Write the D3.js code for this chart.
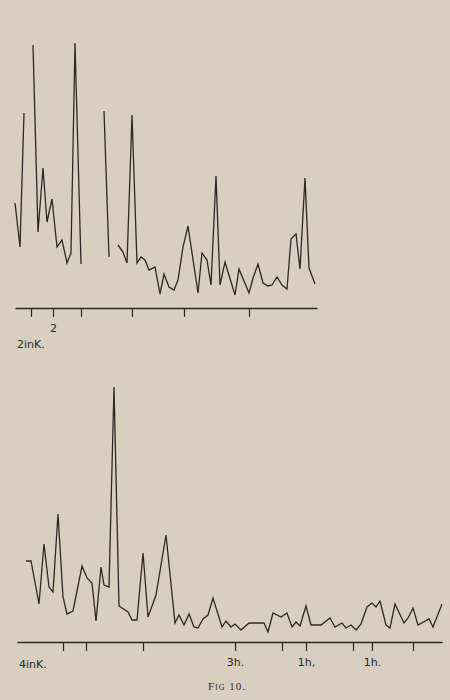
<!DOCTYPE html>
<html>
<head>
<meta charset="utf-8">
<script src="https://cdn.jsdelivr.net/npm/d3@7"></script>
<style>
  body { margin: 0; background: #d9cfc0; }
  svg { display: block; }
</style>
</head>
<body>
<div id="fig"></div>
<script>
// upper trace (2 in K.) : position along axis, height above baseline; null = break in trace
var topPos = [0, 5, 9, null,
    18, 23, 28, 32, 37, 42, 47, 52, 56, 60, 66, null,
    89, 94, null,
    103, 108, 112, 117, 122, 126, 130, 134, 140, 145, 149, 154, 159, 163, 168, 173, 183, 187,
    192, 196, 201, 205, 210, 220, 224, 234, 238, 243, 248, 253, 257, 262, 267, 272, 276, 281,
    285, 290, 294, 300];
var topVal = [105, 61, 195, null,
    263, 76, 140, 86, 109, 61, 68, 45, 55, 265, 44, null,
    197, 51, null,
    63, 56, 45, 193, 45, 51, 48, 38, 41, 14, 34, 21, 18, 28, 61, 82, 15, 55,
    48, 23, 132, 23, 46, 13, 39, 15, 30, 44, 25, 22, 23, 31, 23, 19, 69, 74,
    39, 130, 40, 24];
var topTicks = [16, 38, 66, 117, 169, 234];
var topTickLabels = {38: "2"};

// lower trace (4 in K.)
var botPos = [9, 14, 22, 27, 32, 36, 41, 46, 50, 56, 65, 70, 75, 79, 84, 87, 92, 97, 102, 111,
    115, 120, 126, 131, 139, 149, 158, 162, 167, 172, 177, 181, 186, 191, 196, 205, 209, 214,
    218, 224, 232, 247, 251, 256, 264, 270, 275, 279, 283, 289, 294, 304, 313, 318, 325, 329,
    334, 339, 344, 350, 355, 359, 363, 369, 373, 378, 387, 391, 396, 401, 412, 416, 425];
var botVal = [81, 81, 38, 98, 55, 50, 128, 45, 28, 31, 76, 64, 59, 21, 75, 57, 55, 255, 36, 30,
    22, 22, 89, 25, 47, 107, 19, 27, 17, 28, 15, 14, 23, 27, 44, 15, 21, 15,
    18, 12, 19, 19, 10, 29, 25, 29, 15, 20, 16, 36, 17, 17, 24, 15, 19, 14,
    17, 12, 18, 35, 39, 35, 41, 17, 14, 38, 19, 24, 34, 17, 23, 15, 38];
var botTicks = [46, 69, 126, 218, 265, 289, 336, 355, 396];
var botTickLabels = {218: "3h.", 289: "1h,", 355: "1h."};

var ink = "#2b2826";

var svg = d3.select("#fig").append("svg")
    .attr("width", 450)
    .attr("height", 700);

function trace(opts) {
    var x = d3.scaleLinear().domain([0, opts.span]).range([opts.left, opts.right]);
    var y = d3.scaleLinear().domain([0, 100]).range([opts.base, opts.base - 100]);

    var g = svg.append("g");

    var axis = d3.axisBottom(x)
        .tickValues(opts.ticks)
        .tickSize(9)
        .tickSizeOuter(0)
        .tickPadding(7)
        .tickFormat(function(d) { return opts.labels[d] || ""; });

    var ax = g.append("g")
        .attr("transform", "translate(0," + opts.base + ")")
        .call(axis);
    ax.select(".domain").attr("stroke", ink).attr("stroke-width", 1.6);
    ax.selectAll(".tick line").attr("stroke", ink).attr("stroke-width", 1.2);
    ax.selectAll(".tick text")
        .attr("fill", ink)
        .style("font-family", "'DejaVu Sans', sans-serif")
        .style("font-size", "11px");

    var pts = opts.pos.map(function(p, i) { return [p, opts.val[i]]; });

    var line = d3.line()
        .defined(function(d) { return d[0] !== null && d[1] !== null; })
        .x(function(d) { return x(d[0]); })
        .y(function(d) { return y(d[1]); });

    g.append("path")
        .datum(pts)
        .attr("d", line)
        .attr("fill", "none")
        .attr("stroke", ink)
        .attr("stroke-width", 1.3)
        .attr("stroke-linejoin", "miter");

    // scale note under the left end
    g.append("text")
        .attr("x", opts.left + 2)
        .attr("y", opts.base + opts.noteDy)
        .attr("fill", ink)
        .style("font-family", "'DejaVu Sans', sans-serif")
        .style("font-size", "11px")
        .text(opts.note);
}

trace({ left: 15, right: 317, span: 302, base: 308, pos: topPos, val: topVal,
        ticks: topTicks, labels: topTickLabels, note: "2inK.", noteDy: 40 });

trace({ left: 17, right: 442, span: 425, base: 642, pos: botPos, val: botVal,
        ticks: botTicks, labels: botTickLabels, note: "4inK.", noteDy: 26 });

// caption
svg.append("text")
    .attr("x", 227)
    .attr("y", 690)
    .attr("text-anchor", "middle")
    .attr("fill", ink)
    .style("font-family", "'Liberation Serif', serif")
    .style("font-size", "11px")
    .style("font-variant", "small-caps")
    .style("letter-spacing", "1px")
    .text("Fig 10.");
</script>
</body>
</html>
